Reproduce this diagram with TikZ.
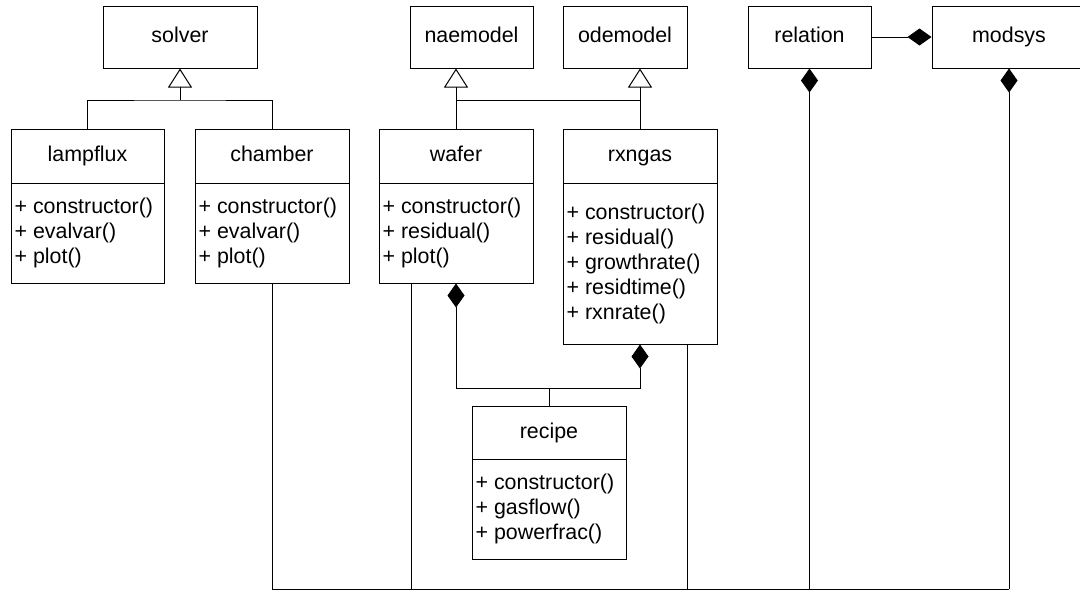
\documentclass[tikz,border=0pt]{standalone}
\usepackage{fontspec}
\setmainfont{Liberation Sans}
\usetikzlibrary{arrows.meta,fit}

\tikzset{
  umltext/.style={font=\fontsize{10.7}{12.5}\selectfont},
  titletext/.style={umltext, text height=7.8pt, text depth=2.2pt},
  simplebox/.style={draw, line width=0.5pt, inner sep=0pt, titletext},
  classbox/.style={draw, line width=0.5pt, inner sep=0pt},
  methods/.style={umltext, align=left, inner xsep=1.6pt, inner ysep=0pt},
  link/.style={line width=0.5pt},
  gen/.style={link, -{Triangle[open, length=9.5pt, width=12pt]}},
  comp/.style={link, {Diamond[length=12pt, width=8.5pt]}-},
  comp2/.style={link, {Diamond[length=12pt, width=8.5pt]}-{Diamond[length=12pt, width=8.5pt]}},
}

% class box: name, left, top, right, bottom, divider, title, operations
\newcommand\umlclass[8]{%
  \node[classbox, fit={(#2,#3) (#4,#5)}] (#1) {};
  \node[titletext] (#1-title) at ({(#2+#4)/2},{(#3+#6)/2}) {#7};
  \draw[link] (#2,#6) -- (#4,#6);
  \node[methods, anchor=west] (#1-ops) at (#2,{(#6+#5)/2}) {#8};
}

\begin{document}
\begin{tikzpicture}[x=0.5pt, y=-0.5pt]
  \useasboundingbox (0,0) rectangle (1080,590);

  % base classes and containers
  \node[simplebox, minimum width=77pt,   minimum height=31pt] (solver)   at (180,37)    {solver};
  \node[simplebox, minimum width=61.5pt, minimum height=31pt] (naemodel) at (471.5,37)  {naemodel};
  \node[simplebox, minimum width=62pt,   minimum height=31pt] (odemodel) at (625,37)    {odemodel};
  \node[simplebox, minimum width=61.5pt, minimum height=31pt] (relation) at (809.5,37)  {relation};
  \node[simplebox, minimum width=77pt,   minimum height=31pt] (modsys)   at (1009,37)   {modsys};

  % derived classes
  \umlclass{lampflux}{11}{129}{164}{283}{183}{lampflux}
    {+ constructor()\\+ evalvar()\\+ plot()}
  \umlclass{chamber}{195}{129}{349}{283}{183}{chamber}
    {+ constructor()\\+ evalvar()\\+ plot()}
  \umlclass{wafer}{379}{129}{533}{283}{183}{wafer}
    {+ constructor()\\+ residual()\\+ plot()}
  \umlclass{rxngas}{563}{129}{717}{344}{183}{rxngas}
    {+ constructor()\\+ residual()\\+ growthrate()\\+ residtime()\\+ rxnrate()}
  \umlclass{recipe}{472}{406}{626}{559}{459}{recipe}
    {+ constructor()\\+ gasflow()\\+ powerfrac()}

  % junction points
  \coordinate (sj) at (180,100);
  \coordinate (mj) at (457,100);
  \coordinate (rj) at (549,388);
  \coordinate (busL) at (272,589);
  \coordinate (busR) at (1009,589);
  \coordinate (waferlink) at (411,283);
  \coordinate (rxnlink) at (687,344);

  % generalisation: solver
  \draw[link] (lampflux.north) |- (sj) -| (chamber.north);
  \draw[gen] (sj) -- (solver.south);

  % generalisation: naemodel / odemodel
  \draw[gen] (wafer.north) -- (wafer.north |- naemodel.south);
  \draw[gen] (rxngas.north) -- (rxngas.north |- odemodel.south);
  \draw[link] (wafer.north |- mj) -- (rxngas.north |- mj);

  % composition: relation in modsys
  \draw[link, -{Diamond[length=12pt, width=8.5pt]}] (relation.east) -- (modsys.west);

  % composition: recipe in wafer and rxngas
  \draw[comp2] (wafer.south) |- (rj) -| (rxngas.south);
  \draw[link] (recipe.north) -- (rj);

  % composition bus to relation and modsys
  \draw[comp] (relation.south) -- (relation.south |- busR);
  \draw[comp] (modsys.south) -- (busR);
  \draw[link] (chamber.south) -- (busL) -- (busR);
  \draw[link] (waferlink) -- (waferlink |- busL);
  \draw[link] (rxnlink) -- (rxnlink |- busL);
\end{tikzpicture}
\end{document}
